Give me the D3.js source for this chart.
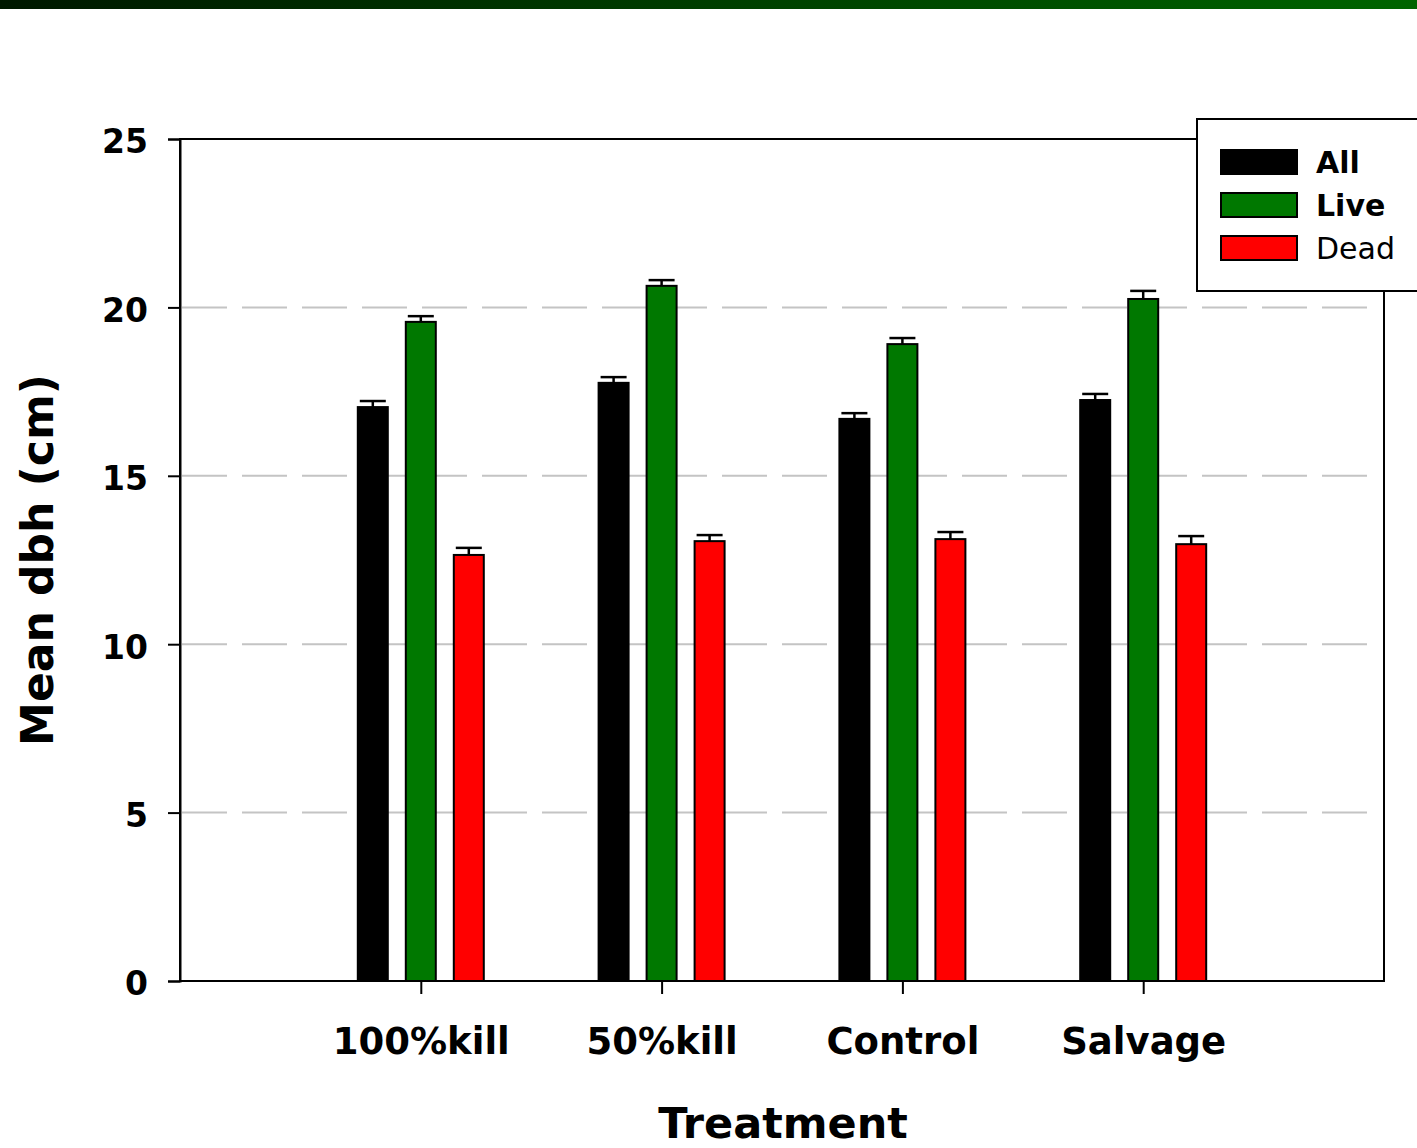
<!DOCTYPE html>
<html>
<head>
<meta charset="utf-8">
<script src="https://cdn.jsdelivr.net/npm/d3@7"></script>
<style>
  body { margin: 0; background: #fff; overflow: hidden; }
  svg { display: block; }
</style>
</head>
<body>
<div id="vis-container"></div>
<script>
// width and height
var w = 1417;
var h = 1148;

// data
var categories = ["100%kill", "50%kill", "Control", "Salvage"];
var seriesNames = ["All", "Live", "Dead"];
var seriesColors = ["#000000", "#007800", "#ff0000"];
var allMean = [17.04, 17.76, 16.69, 17.25];
var allErr = [0.18, 0.17, 0.17, 0.18];
var liveMean = [19.57, 20.64, 18.91, 20.25];
var liveErr = [0.17, 0.17, 0.18, 0.24];
var deadMean = [12.65, 13.06, 13.12, 12.97];
var deadErr = [0.21, 0.18, 0.21, 0.24];
var yTicks = [0, 5, 10, 15, 20, 25];
var gridTicks = [5, 10, 15, 20];

var means = [allMean, liveMean, deadMean];
var errs = [allErr, liveErr, deadErr];

var dataset = [];
categories.forEach(function (c, i) {
    seriesNames.forEach(function (s, j) {
        dataset.push({ cat: c, series: s, value: means[j][i], err: errs[j][i] });
    });
});

// plot box
var pLeft = 180, pRight = 1384, pTop = 139, pBottom = 981;

var xScale = d3.scalePoint()
    .domain(categories)
    .range([pLeft, pRight])
    .padding(1);

var offset = d3.scalePoint()
    .domain(seriesNames)
    .range([-48, 48]);

var color = d3.scaleOrdinal().domain(seriesNames).range(seriesColors);

var yScale = d3.scaleLinear()
    .domain([0, 25])
    .range([pBottom, pTop]);

var barW = 30;

var svg = d3.select("#vis-container")
    .append("svg")
    .attr("width", w)
    .attr("height", h);

// top banner
var grad = svg.append("defs").append("linearGradient")
    .attr("id", "banner")
    .attr("x1", "0%").attr("x2", "100%");
grad.append("stop").attr("offset", "0%").attr("stop-color", "#001800");
grad.append("stop").attr("offset", "100%").attr("stop-color", "#006400");
svg.append("rect")
    .attr("x", 0).attr("y", 0)
    .attr("width", w).attr("height", 9)
    .attr("fill", "url(#banner)");

// grid lines
svg.selectAll(".grid")
    .data(gridTicks)
    .enter()
    .append("line")
    .attr("class", "grid")
    .attr("x1", pLeft + 2)
    .attr("x2", pRight - 15)
    .attr("y1", function (d) { return yScale(d); })
    .attr("y2", function (d) { return yScale(d); })
    .attr("stroke", "#c4c4c4")
    .attr("stroke-width", 2)
    .attr("stroke-dasharray", "45,15");

// bars
svg.selectAll(".bar")
    .data(dataset)
    .enter()
    .append("rect")
    .attr("class", "bar")
    .attr("x", function (d) { return xScale(d.cat) + offset(d.series) - barW / 2; })
    .attr("y", function (d) { return yScale(d.value); })
    .attr("width", barW)
    .attr("height", function (d) { return yScale(0) - yScale(d.value); })
    .attr("fill", function (d) { return color(d.series); })
    .attr("stroke", "#000")
    .attr("stroke-width", 2);

// error bars
var eb = svg.selectAll(".err")
    .data(dataset)
    .enter()
    .append("g")
    .attr("class", "err")
    .attr("stroke", "#000")
    .attr("stroke-width", 2.5);
eb.append("line")
    .attr("x1", function (d) { return xScale(d.cat) + offset(d.series); })
    .attr("x2", function (d) { return xScale(d.cat) + offset(d.series); })
    .attr("y1", function (d) { return yScale(d.value); })
    .attr("y2", function (d) { return yScale(d.value + d.err); });
eb.append("line")
    .attr("x1", function (d) { return xScale(d.cat) + offset(d.series) - 13; })
    .attr("x2", function (d) { return xScale(d.cat) + offset(d.series) + 13; })
    .attr("y1", function (d) { return yScale(d.value + d.err); })
    .attr("y2", function (d) { return yScale(d.value + d.err); });

// frame
svg.append("rect")
    .attr("x", pLeft).attr("y", pTop)
    .attr("width", pRight - pLeft).attr("height", pBottom - pTop)
    .attr("fill", "none")
    .attr("stroke", "#000")
    .attr("stroke-width", 2);

// y axis
var yAxis = d3.axisLeft(yScale).tickValues(yTicks).tickSize(12).tickPadding(20);
var gy = svg.append("g")
    .attr("transform", "translate(" + pLeft + ",0)")
    .call(yAxis);
gy.select(".domain").attr("stroke-width", 2);
gy.selectAll(".tick line").attr("stroke-width", 2);
gy.selectAll("text")
    .attr("font-family", "DejaVu Sans")
    .attr("font-weight", "bold")
    .attr("font-size", "33px")
    .attr("dy", "0.42em")
    .attr("fill", "#000");

// x axis
var xAxis = d3.axisBottom(xScale).tickSize(13).tickPadding(34).tickSizeOuter(0);
var gx = svg.append("g")
    .attr("transform", "translate(0," + pBottom + ")")
    .call(xAxis);
gx.select(".domain").remove();
gx.selectAll(".tick line").attr("stroke-width", 2);
gx.selectAll("text")
    .attr("font-family", "DejaVu Sans")
    .attr("font-weight", "bold")
    .attr("font-size", "37px")
    .attr("fill", "#000");

// axis titles
svg.append("text")
    .attr("transform", "translate(53," + ((pTop + pBottom) / 2) + ") rotate(-90)")
    .attr("text-anchor", "middle")
    .attr("font-family", "DejaVu Sans")
    .attr("font-weight", "bold")
    .attr("font-size", "44px")
    .text("Mean dbh (cm)");

svg.append("text")
    .attr("x", 783)
    .attr("y", 1138)
    .attr("text-anchor", "middle")
    .attr("font-family", "DejaVu Sans")
    .attr("font-weight", "bold")
    .attr("font-size", "43px")
    .text("Treatment");

// legend
svg.append("rect")
    .attr("x", 1197).attr("y", 119)
    .attr("width", 250).attr("height", 172)
    .attr("fill", "#fff")
    .attr("stroke", "#000")
    .attr("stroke-width", 2);

var legend = svg.selectAll(".legend")
    .data(seriesNames)
    .enter().append("g")
    .attr("class", "legend")
    .attr("transform", function (d, i) { return "translate(0," + (i * 43) + ")"; });

legend.append("rect")
    .attr("x", 1221)
    .attr("y", 150)
    .attr("width", 76)
    .attr("height", 24)
    .attr("fill", color)
    .attr("stroke", "#000")
    .attr("stroke-width", 2);

legend.append("text")
    .attr("x", 1316)
    .attr("y", 173)
    .attr("font-family", "DejaVu Sans")
    .attr("font-size", "30px")
    .attr("font-weight", function (d) { return d === "Dead" ? "normal" : "bold"; })
    .text(function (d) { return d; });
</script>
</body>
</html>
